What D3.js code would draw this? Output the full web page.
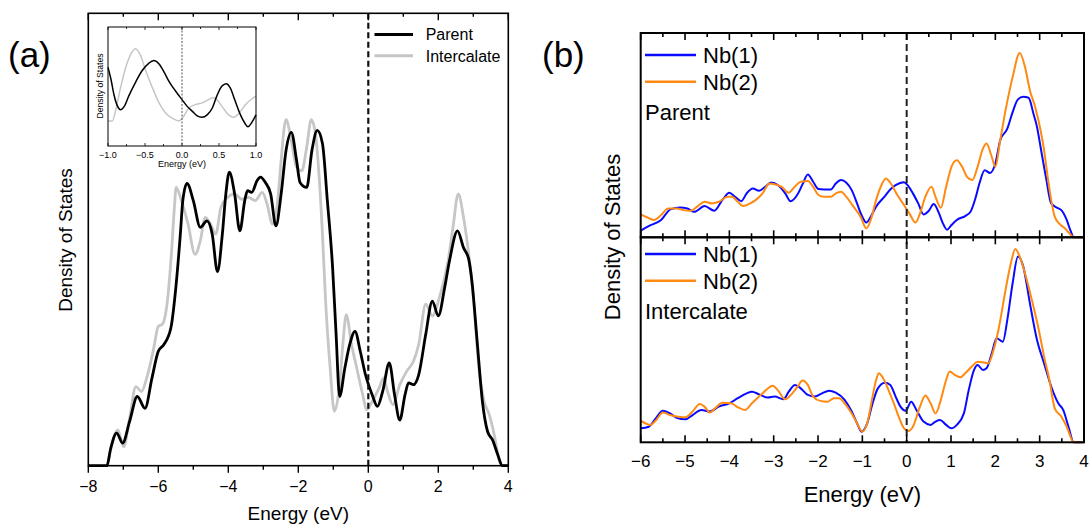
<!DOCTYPE html>
<html><head><meta charset="utf-8">
<script src="https://cdn.jsdelivr.net/npm/d3@7"></script>
<style>
body{margin:0;background:#fff}
text{font-family:"Liberation Sans",Arial,sans-serif;fill:#000}
</style></head>
<body><svg id="c" width="1090" height="524"></svg>
<script>
// ---------------- DATA ----------------
// Panel (a): total DOS, [energy (eV), DOS (arb.)]
const aParent = [[-8,0],[-7.47,0],[-7.36,3.8],[-7.19,7.2],[-7.02,5.0],[-6.82,9.8],[-6.60,15.3],[-6.38,12.7],[-6.18,19.4],[-6.00,25.3],[-5.84,26.8],[-5.64,30.5],[-5.49,40.1],[-5.37,51.2],[-5.30,58.6],[-5.18,62.4],[-5.00,58.6],[-4.80,52.7],[-4.61,54.1],[-4.46,51.2],[-4.31,42.9],[-4.17,51.2],[-4.07,60.1],[-3.97,64.9],[-3.82,60.1],[-3.67,51.9],[-3.53,58.6],[-3.45,60.8],[-3.33,60.4],[-3.18,63.0],[-3.08,63.8],[-2.94,62.6],[-2.79,60.1],[-2.64,53.0],[-2.49,60.1],[-2.35,69.7],[-2.20,73.7],[-2.05,67.5],[-1.95,62.6],[-1.76,61.5],[-1.61,69.7],[-1.46,74.1],[-1.31,71.2],[-1.17,58.6],[-1.02,43.8],[-0.92,29.0],[-0.82,15.3],[-0.67,21.6],[-0.53,26.8],[-0.38,29.7],[-0.23,25.3],[-0.08,20.1],[0.11,15.7],[0.26,13.1],[0.41,16.4],[0.60,22.7],[0.75,15.7],[0.90,10.1],[1.05,15.7],[1.15,18.3],[1.29,17.9],[1.44,20.1],[1.64,29.0],[1.83,36.4],[2.00,33.1],[2.18,39.3],[2.32,45.3],[2.55,51.9],[2.72,48.2],[2.87,45.6],[2.96,40.8],[3.11,27.5],[3.26,14.2],[3.41,7.5],[3.55,5.7],[3.70,2.4],[3.83,0],[4,0]];
const aIntercalate = [[-7.45,0],[-7.31,5.3],[-7.16,7.9],[-6.99,4.2],[-6.82,10.5],[-6.64,17.5],[-6.48,16.4],[-6.33,19.4],[-6.13,26.0],[-6.00,30.8],[-5.89,31.2],[-5.74,36.4],[-5.62,47.5],[-5.54,57.1],[-5.49,61.5],[-5.34,58.6],[-5.15,53.4],[-4.95,46.7],[-4.80,49.7],[-4.66,54.9],[-4.51,53.4],[-4.36,51.2],[-4.21,57.1],[-4.02,59.3],[-3.82,60.1],[-3.62,58.9],[-3.43,59.3],[-3.23,58.6],[-3.03,60.4],[-2.89,57.8],[-2.74,53.4],[-2.59,58.6],[-2.49,67.5],[-2.40,74.9],[-2.35,76.5],[-2.20,71.9],[-2.05,66.0],[-1.90,65.2],[-1.76,70.4],[-1.63,76.5],[-1.51,73.4],[-1.41,64.5],[-1.31,51.2],[-1.22,36.4],[-1.09,21.6],[-0.97,12.0],[-0.82,17.9],[-0.72,27.5],[-0.63,33.4],[-0.48,26.8],[-0.33,21.6],[-0.18,16.4],[-0.04,12.4],[0.11,14.2],[0.31,17.2],[0.44,19.4],[0.55,16.4],[0.70,13.5],[0.90,17.9],[1.10,20.9],[1.29,23.1],[1.44,26.8],[1.64,35.7],[1.83,33.1],[2.03,37.1],[2.28,45.3],[2.42,52.7],[2.57,60.1],[2.72,54.9],[2.87,46.7],[3.01,36.4],[3.16,21.6],[3.31,14.2],[3.46,11.2],[3.60,6.8],[3.75,0.9],[3.85,0],[4,0]];
// Inset of panel (a)
const insetParent = [[-1.00,66.1],[-0.96,56.1],[-0.92,43.3],[-0.87,33.3],[-0.83,30.5],[-0.78,33.3],[-0.72,41.9],[-0.63,53.3],[-0.54,63.2],[-0.45,69.5],[-0.38,71.8],[-0.31,68.9],[-0.24,61.8],[-0.18,54.7],[-0.12,49.0],[-0.07,44.7],[0.00,39.0],[0.07,33.3],[0.14,29.1],[0.20,25.6],[0.27,24.2],[0.34,26.2],[0.41,31.9],[0.47,41.9],[0.54,50.4],[0.60,52.4],[0.65,49.0],[0.72,37.6],[0.79,26.2],[0.85,19.1],[0.89,16.2],[0.95,20.5],[1.00,26.2]];
const insetIntercalate = [[-1.00,21.1],[-0.94,21.1],[-0.90,29.1],[-0.83,49.0],[-0.76,66.1],[-0.69,77.5],[-0.63,81.8],[-0.56,76.1],[-0.49,63.2],[-0.40,49.0],[-0.31,36.2],[-0.22,27.6],[-0.13,23.4],[-0.04,21.1],[0.02,24.8],[0.09,31.9],[0.18,34.8],[0.27,36.2],[0.36,39.0],[0.42,40.5],[0.47,39.0],[0.54,33.3],[0.63,26.2],[0.70,24.2],[0.77,27.6],[0.86,34.8],[0.95,39.9],[1.00,41.9]];
// Panel (b): Nb projected DOS
const bParentNb1 = [[-6.00,3.3],[-5.82,5.5],[-5.54,8.5],[-5.33,13.7],[-5.11,14.6],[-4.95,14.1],[-4.79,12.5],[-4.56,15.3],[-4.34,13.0],[-4.16,18.2],[-4.00,21.8],[-3.87,19.8],[-3.73,17.7],[-3.61,21.5],[-3.47,23.9],[-3.33,22.8],[-3.19,24.7],[-3.06,26.8],[-2.90,25.5],[-2.74,21.5],[-2.62,17.7],[-2.46,21.1],[-2.35,25.9],[-2.23,30.7],[-2.11,27.2],[-1.99,23.6],[-1.87,23.4],[-1.71,23.4],[-1.60,26.3],[-1.48,28.0],[-1.36,26.7],[-1.24,23.1],[-1.12,16.6],[-1.02,10.9],[-0.91,7.2],[-0.81,10.1],[-0.69,15.0],[-0.49,20.2],[-0.37,23.4],[-0.25,25.5],[-0.06,27.0],[0.02,25.5],[0.14,21.5],[0.26,16.6],[0.38,11.2],[0.50,13.0],[0.61,16.3],[0.73,11.7],[0.81,7.2],[0.91,3.7],[1.01,6.0],[1.13,8.5],[1.32,10.4],[1.44,12.5],[1.56,19.8],[1.64,26.3],[1.76,32.8],[1.88,31.5],[2.00,36.1],[2.11,47.5],[2.27,53.2],[2.39,61.3],[2.51,67.5],[2.63,68.8],[2.75,68.3],[2.86,60.5],[2.94,54.0],[3.02,44.2],[3.14,29.6],[3.26,16.6],[3.38,14.6],[3.49,13.3],[3.61,8.5],[3.69,3.6],[3.77,0],[4,0]];
const bParentNb2 = [[-6.00,11.2],[-5.86,9.8],[-5.70,8.5],[-5.54,10.9],[-5.38,14.1],[-5.19,14.1],[-5.03,13.3],[-4.87,13.0],[-4.71,15.3],[-4.56,17.4],[-4.40,16.6],[-4.24,17.4],[-4.04,19.8],[-3.94,19.8],[-3.81,17.4],[-3.69,15.3],[-3.53,16.6],[-3.41,18.2],[-3.25,21.5],[-3.10,26.3],[-2.98,26.0],[-2.82,24.7],[-2.66,21.8],[-2.54,24.4],[-2.39,27.2],[-2.23,27.5],[-2.11,24.7],[-1.99,20.7],[-1.87,19.8],[-1.71,19.8],[-1.60,21.5],[-1.48,22.3],[-1.36,19.8],[-1.20,15.0],[-1.04,10.1],[-0.91,4.4],[-0.81,8.5],[-0.69,18.2],[-0.57,25.5],[-0.47,28.8],[-0.37,26.7],[-0.21,20.7],[-0.06,15.8],[0.06,11.7],[0.20,7.2],[0.30,11.7],[0.42,19.8],[0.56,24.7],[0.65,19.8],[0.77,14.5],[0.89,24.7],[1.01,34.5],[1.13,37.7],[1.25,34.5],[1.36,29.6],[1.48,28.0],[1.60,34.5],[1.72,43.4],[1.80,45.9],[1.92,39.3],[2.00,34.5],[2.11,47.5],[2.23,62.1],[2.39,78.4],[2.55,90.2],[2.67,83.3],[2.78,71.9],[2.90,63.7],[3.02,52.4],[3.10,42.6],[3.18,29.6],[3.26,18.2],[3.34,10.1],[3.46,6.3],[3.57,4.4],[3.69,1.5],[3.77,0],[4,0]];
const bInterNb1 = [[-6.00,6.8],[-5.82,7.6],[-5.66,11.7],[-5.50,15.4],[-5.34,14.1],[-5.19,12.0],[-4.99,11.2],[-4.83,13.3],[-4.63,15.8],[-4.44,15.0],[-4.24,17.4],[-4.00,19.0],[-3.81,21.5],[-3.61,23.9],[-3.49,24.7],[-3.33,23.4],[-3.13,21.8],[-2.98,22.3],[-2.78,21.0],[-2.66,24.7],[-2.52,28.0],[-2.39,26.3],[-2.23,23.1],[-2.07,22.3],[-1.91,23.9],[-1.75,25.2],[-1.60,24.2],[-1.40,20.7],[-1.24,15.0],[-1.12,9.3],[-1.02,5.2],[-0.89,9.3],[-0.77,19.0],[-0.65,26.3],[-0.49,29.1],[-0.37,28.0],[-0.25,22.3],[-0.14,17.4],[-0.02,15.4],[0.10,19.8],[0.22,15.8],[0.38,10.1],[0.54,8.5],[0.65,10.1],[0.75,10.9],[0.89,8.5],[1.01,6.8],[1.13,8.5],[1.29,14.1],[1.40,25.5],[1.52,35.3],[1.60,37.7],[1.72,35.3],[1.80,36.1],[1.92,43.4],[2.03,50.7],[2.17,49.1],[2.27,59.7],[2.39,77.6],[2.51,90.6],[2.63,85.7],[2.78,67.8],[2.94,49.9],[3.10,38.5],[3.26,27.2],[3.42,19.0],[3.53,15.8],[3.65,7.6],[3.77,0],[4,0]];
const bInterNb2 = [[-6.00,10.6],[-5.90,9.3],[-5.78,8.5],[-5.66,10.6],[-5.50,14.5],[-5.34,13.3],[-5.15,12.5],[-4.99,12.2],[-4.83,15.0],[-4.67,18.7],[-4.56,17.4],[-4.44,14.5],[-4.32,16.6],[-4.16,19.3],[-3.96,19.0],[-3.81,17.1],[-3.65,15.8],[-3.49,19.0],[-3.25,23.9],[-3.02,27.6],[-2.90,25.2],[-2.74,21.0],[-2.58,23.9],[-2.46,27.2],[-2.35,30.1],[-2.23,28.0],[-2.11,22.3],[-1.95,20.2],[-1.79,19.8],[-1.64,21.5],[-1.52,21.5],[-1.40,19.0],[-1.24,14.1],[-1.12,9.3],[-1.00,5.2],[-0.89,9.3],[-0.77,22.3],[-0.69,30.4],[-0.63,33.7],[-0.53,31.2],[-0.41,25.5],[-0.29,19.0],[-0.18,12.5],[-0.06,6.8],[0.04,5.5],[0.14,7.6],[0.30,17.4],[0.42,22.8],[0.54,19.0],[0.65,14.1],[0.77,20.7],[0.89,30.4],[0.97,34.5],[1.09,32.8],[1.21,31.7],[1.32,33.7],[1.48,37.2],[1.60,39.3],[1.72,39.0],[1.84,38.5],[1.96,45.0],[2.07,54.8],[2.23,74.3],[2.35,87.3],[2.45,94.3],[2.55,90.6],[2.71,79.2],[2.86,66.2],[2.98,54.8],[3.10,41.8],[3.22,30.4],[3.34,16.6],[3.49,12.5],[3.61,7.6],[3.77,0],[4,0]];
// tick values
const aMajorTicks = [-8,-6,-4,-2,0,2,4];
const aMinorTicks = [-7,-5,-3,-1,1,3];
const insetMajorTicks = [-1,-0.5,0,0.5,1];
const insetMinorTicks = [-0.75,-0.25,0.25,0.75];
const bMajorTicks = [-6,-5,-4,-3,-2,-1,0,1,2,3,4];
const bMinorTicks = [-5.5,-4.5,-3.5,-2.5,-1.5,-0.5,0.5,1.5,2.5,3.5];
const aLegend = ["Parent","Intercalate"];
const bLegend = ["Nb(1)","Nb(2)"];

// ---------------- DRAW ----------------
const svg = d3.select("#c");
const fmtInt = d3.format("d");
const fmt1 = d3.format(".1f");

function curve(g, data, x, y, color, w){
  g.append("path").datum(data)
    .attr("fill","none").attr("stroke",color).attr("stroke-width",w)
    .attr("stroke-linejoin","round")
    .attr("d", d3.line().x(d=>x(d[0])).y(d=>y(d[1])).curve(d3.curveMonotoneX));
}
function ticks(g, vals, x, y0, len, w){
  g.selectAll(null).data(vals).enter().append("line")
    .attr("x1",d=>x(d)).attr("x2",d=>x(d))
    .attr("y1",y0).attr("y2",y0+len)
    .attr("stroke","#000").attr("stroke-width",w);
}
function frame(g, x, y, color, w){
  g.append("rect").attr("x",x.range()[0]).attr("y",y.range()[1])
    .attr("width",x.range()[1]-x.range()[0]).attr("height",y.range()[0]-y.range()[1])
    .attr("fill","none").attr("stroke",color).attr("stroke-width",w);
}

// ===== Panel (a) =====
const ax = d3.scaleLinear([-8,4],[88.3,508.3]);
const ay = d3.scaleLinear([0,100],[465.7,13.3]);
const ga = svg.append("g");
curve(ga, aIntercalate, ax, ay, "#c6c6c6", 2.8);
curve(ga, aParent, ax, ay, "#000", 2.8);
ga.append("line").attr("x1",ax(0)).attr("x2",ax(0)).attr("y1",ay(100)).attr("y2",ay(0))
  .attr("stroke","#111").attr("stroke-width",2.2).attr("stroke-dasharray","6,3.5");
frame(ga, ax, ay, "#000", 1.6);
ticks(ga, aMajorTicks, ax, ay(0), 7, 1.4);
ticks(ga, aMinorTicks, ax, ay(0), 4, 1.4);
ticks(ga, aMajorTicks, ax, ay(100), 7, 1.4);
ticks(ga, aMinorTicks, ax, ay(100), 3.5, 1.4);
ga.selectAll(null).data(aMajorTicks).enter().append("text")
  .attr("x",d=>ax(d)).attr("y",491.5).attr("text-anchor","middle")
  .style("font-size","16px").text(d=>fmtInt(d));
ga.append("text").attr("x",(ax.range()[0]+ax.range()[1])/2).attr("y",520)
  .attr("text-anchor","middle").style("font-size","19px").text("Energy (eV)");
ga.append("text").attr("transform","translate(72,240) rotate(-90)")
  .attr("text-anchor","middle").style("font-size","19px").text("Density of States");
ga.append("text").attr("x",8).attr("y",67).style("font-size","35px").text("(a)");
// legend (a)
const aLegColors = ["#000","#c6c6c6"];
aLegend.forEach((t,i)=>{
  const yy = 34.4 + i*21.4;
  ga.append("line").attr("x1",374.5).attr("x2",413).attr("y1",yy).attr("y2",yy)
    .attr("stroke",aLegColors[i]).attr("stroke-width",3);
  ga.append("text").attr("x",425.7).attr("y",yy+5.8).style("font-size","16px").text(t);
});

// ===== Inset =====
const ix = d3.scaleLinear([-1,1],[108,256]);
const iy = d3.scaleLinear([0,100],[146,27]);
const gi = svg.append("g");
gi.append("rect").attr("x",108).attr("y",27).attr("width",148).attr("height",119).attr("fill","#fff");
curve(gi, insetIntercalate, ix, iy, "#c6c6c6", 1.5);
curve(gi, insetParent, ix, iy, "#000", 1.5);
gi.append("line").attr("x1",ix(0)).attr("x2",ix(0)).attr("y1",iy(100)).attr("y2",iy(0))
  .attr("stroke","#444").attr("stroke-width",0.9).attr("stroke-dasharray","2,1.5");
frame(gi, ix, iy, "#000", 1);
ticks(gi, insetMajorTicks, ix, iy(0), -3, 0.8);
ticks(gi, insetMinorTicks, ix, iy(0), -2, 0.8);
ticks(gi, insetMajorTicks, ix, iy(100), 3, 0.8);
ticks(gi, insetMinorTicks, ix, iy(100), 2, 0.8);
gi.selectAll(null).data(insetMajorTicks).enter().append("text")
  .attr("x",d=>ix(d)).attr("y",158).attr("text-anchor","middle")
  .style("font-size","9px").text(d=>fmt1(d));
gi.append("text").attr("x",182).attr("y",167.3).attr("text-anchor","middle")
  .style("font-size","9px").text("Energy (eV)");
gi.append("text").attr("transform","translate(103,86) rotate(-90)")
  .attr("text-anchor","middle").style("font-size","8.6px").text("Density of States");

// ===== Panel (b) =====
const bx = d3.scaleLinear([-6,4],[640.7,1084]);
const byTop = d3.scaleLinear([0,100],[237.3,33]);
const byBot = d3.scaleLinear([0,100],[442.3,237.3]);
const gb = svg.append("g");
const blue = "#0a0aff", orange = "#ff8a12";
curve(gb, bParentNb1, bx, byTop, blue, 2);
curve(gb, bParentNb2, bx, byTop, orange, 2);
curve(gb, bInterNb1, bx, byBot, blue, 2);
curve(gb, bInterNb2, bx, byBot, orange, 2);
gb.append("line").attr("x1",bx(0)).attr("x2",bx(0)).attr("y1",byTop(100)).attr("y2",byBot(0))
  .attr("stroke","#222").attr("stroke-width",2).attr("stroke-dasharray","7,4");
frame(gb, bx, byTop, "#000", 2);
frame(gb, bx, byBot, "#000", 2);
[[byTop(100),1],[byTop(0),-1],[byBot(100),1],[byBot(0),-1]].forEach(([y0,s])=>{
  ticks(gb, bMajorTicks, bx, y0, 7*s, 1.6);
  ticks(gb, bMinorTicks, bx, y0, 4*s, 1.6);
});
gb.selectAll(null).data(bMajorTicks).enter().append("text")
  .attr("x",d=>bx(d)).attr("y",467).attr("text-anchor","middle")
  .style("font-size","17px").text(d=>fmtInt(d));
gb.append("text").attr("x",(bx.range()[0]+bx.range()[1])/2).attr("y",502)
  .attr("text-anchor","middle").style("font-size","22px").text("Energy (eV)");
gb.append("text").attr("transform","translate(620,237) rotate(-90)")
  .attr("text-anchor","middle").style("font-size","22px").text("Density of States");
gb.append("text").attr("x",542).attr("y",67).style("font-size","35px").text("(b)");
const bLegColors = [blue, orange];
[[55,"Parent"],[254,"Intercalate"]].forEach(([y0,lab])=>{
  bLegend.forEach((t,i)=>{
    const yy = y0 + i*26.7;
    gb.append("line").attr("x1",645).attr("x2",696).attr("y1",yy).attr("y2",yy)
      .attr("stroke",bLegColors[i]).attr("stroke-width",2.4);
    gb.append("text").attr("x",703).attr("y",yy+8).style("font-size","22px").text(t);
  });
  gb.append("text").attr("x",645).attr("y",y0+64.7).style("font-size","22px").text(lab);
});
</script></body></html>
